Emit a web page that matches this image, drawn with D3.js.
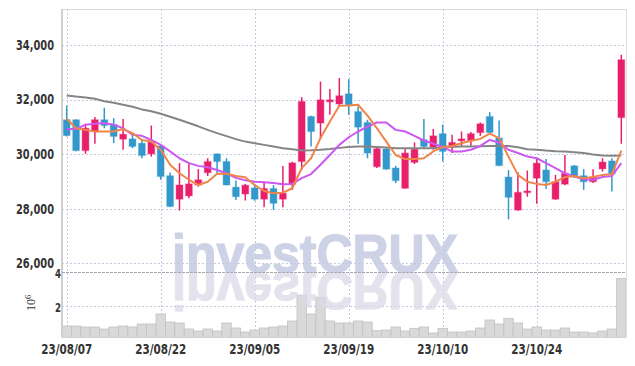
<!DOCTYPE html>
<html>
<head>
<meta charset="utf-8">
<script src="https://cdn.jsdelivr.net/npm/d3@7"></script>
<style>
  body { margin: 0; background: #fff; }
  svg { display: block; }
  .lbl { font-family: "Liberation Sans Narrow", "DejaVu Sans Condensed", sans-serif; font-weight: bold; fill: #333; }
</style>
</head>
<body>
<div id="chart"></div>
<script>
// trading days shown (yy/mm/dd)
const dates = [
  "23/08/07","23/08/08","23/08/09","23/08/10","23/08/11","23/08/14","23/08/16","23/08/17","23/08/18","23/08/21",
  "23/08/22","23/08/23","23/08/24","23/08/25","23/08/28","23/08/29","23/08/30","23/08/31","23/09/01","23/09/04",
  "23/09/05","23/09/06","23/09/07","23/09/08","23/09/11","23/09/12","23/09/13","23/09/14","23/09/15","23/09/18",
  "23/09/19","23/09/20","23/09/21","23/09/22","23/09/25","23/09/26","23/09/27","23/10/04","23/10/05","23/10/06",
  "23/10/10","23/10/11","23/10/12","23/10/13","23/10/16","23/10/17","23/10/18","23/10/19","23/10/20","23/10/23",
  "23/10/24","23/10/25","23/10/26","23/10/27","23/10/30","23/10/31","23/11/01","23/11/02","23/11/03","23/11/06"
];
const openP = [31260,31260,30130,30830,31260,31080,30550,30560,30400,30010,
  30300,29210,28350,28470,28870,29320,30010,29730,28790,28540,
  28760,28350,28740,28350,28900,29730,31380,31140,31920,31840,
  32210,31560,31160,29540,30190,29490,28750,29700,30530,30260,
  30750,30260,30490,30500,30790,31380,30590,29160,27950,28590,
  29120,29420,28350,28900,29570,29210,28990,29460,29750,31340];
const highP = [31780,31280,31110,31360,31700,31320,31290,30750,30540,31050,
  30340,29330,29670,29690,29450,29850,30020,29850,29030,28910,
  28910,28990,28870,29570,29720,32090,31410,32660,32390,32790,
  32750,31750,31260,30260,30210,29570,30220,30430,31290,30920,
  31080,30710,30830,30810,31160,31540,31230,29420,29340,29400,
  29850,29820,29240,29970,29600,29450,29450,29850,29850,33640];
const lowP = [30650,30110,30010,30380,30950,30400,30160,30220,29850,29910,
  29060,28060,27930,28380,28810,29200,29300,28860,28320,28300,
  28290,28050,27960,28050,28690,29420,30280,30550,31440,31750,
  31440,30380,29850,29490,29430,28940,28730,29640,30220,30160,
  29730,30040,30300,30280,30670,30780,29570,27610,27930,28440,
  28180,28720,28330,28860,29150,28690,28940,29360,28630,30380];
const closeP = [30680,30130,30950,31260,31050,30650,30730,30280,29950,30440,
  29180,28080,28870,28910,29060,29730,29730,28870,28440,28860,
  28350,28740,28200,28570,29680,31930,30830,31990,31990,32140,
  31810,30990,30040,30200,29450,29030,30040,30180,30280,30670,
  30100,30430,30560,30750,31110,30790,29580,28420,28600,28650,
  29670,28990,28990,29300,29160,28990,29160,29710,29280,33460];
const volume = [780000,780000,720000,720000,600000,720000,780000,720000,900000,900000,
  1500000,1020000,960000,600000,480000,600000,480000,960000,660000,420000,
  540000,660000,720000,780000,1080000,2630000,1500000,2510000,1080000,960000,
  960000,1080000,1020000,500000,540000,720000,480000,640000,720000,360000,
  640000,420000,420000,480000,660000,1140000,900000,1240000,960000,600000,
  720000,540000,540000,660000,420000,420000,360000,480000,600000,3630000];
// moving average lines
const ma5 = [31300,30950,30890,30830,30830,30830,30920,30770,30520,30460,
  30160,29610,29300,29060,28870,28990,29280,29280,29200,29150,
  28870,28650,28570,28590,28750,29490,29850,30590,31200,31770,
  31780,31810,31410,30950,30460,29970,29820,29820,29850,30100,
  30260,30300,30400,30490,30560,30750,30590,29910,29240,28990,
  28910,28870,28990,29160,29200,29120,29160,29240,29270,30130];
const ma20 = [30920,30920,31080,31110,31140,31080,30950,30710,30670,30520,
  30340,30100,29850,29670,29570,29520,29420,29300,29130,29040,
  28990,28970,28940,28900,28910,29120,29270,29610,29970,30340,
  30620,30830,31010,31160,31160,30890,30830,30670,30500,30380,
  30260,30100,30100,30160,30300,30520,30430,30160,30040,29910,
  29850,29670,29490,29300,29180,29080,29060,29160,29200,29670];
const ma60 = [32150,32110,32080,32030,31940,31880,31810,31740,31640,31570,
  31480,31370,31260,31140,31020,30890,30770,30660,30550,30460,
  30400,30340,30280,30220,30180,30130,30140,30160,30190,30230,
  30260,30280,30280,30260,30240,30220,30220,30220,30220,30220,
  30260,30270,30280,30280,30290,30300,30300,30300,30250,30180,
  30160,30130,30110,30100,30070,30040,29990,29950,29940,29950];
const priceTicks = [26000, 28000, 30000, 32000, 34000];
const volTicks = [2, 4];
const dateTicks = ["23/08/07","23/08/22","23/09/05","23/09/19","23/10/10","23/10/24"];

const width = 635, height = 366;
const plotL = 62, plotR = 626, plotT = 9, split = 272, plotB = 337.5;
const upColor = "#e8206c", downColor = "#3398cb";

const svg = d3.select("#chart").append("svg")
  .attr("width", width).attr("height", height);

const x = d3.scaleBand().domain(dates).range([plotL, plotR]).padding(0);
const y = d3.scaleLinear().domain([26000, 34000]).range([263.3, 45]);
const yv = d3.scaleLinear().domain([0, 4]).range([339, 272.3]);
const cx = d => x(d) + x.bandwidth() / 2;

const defs = svg.append("defs");
defs.append("clipPath").attr("id", "clipP").append("rect")
  .attr("x", plotL).attr("y", plotT).attr("width", plotR - plotL).attr("height", split - plotT);
defs.append("clipPath").attr("id", "clipV").append("rect")
  .attr("x", plotL).attr("y", split).attr("width", plotR - plotL).attr("height", plotB - split);

// grid
const grid = svg.append("g").attr("stroke", "#c6cadf").attr("stroke-dasharray", "2,2").attr("stroke-width", 1);
grid.selectAll("line.h").data(priceTicks).enter().append("line")
  .attr("x1", plotL).attr("x2", plotR)
  .attr("y1", d => Math.round(y(d)) + 0.5).attr("y2", d => Math.round(y(d)) + 0.5);
grid.selectAll("line.v").data(dateTicks).enter().append("line")
  .attr("y1", plotT).attr("y2", plotB)
  .attr("x1", d => Math.round(cx(d)) + 0.5).attr("x2", d => Math.round(cx(d)) + 0.5);
grid.append("line").attr("x1", plotL).attr("x2", plotR)
  .attr("y1", Math.round(yv(2)) + 0.5).attr("y2", Math.round(yv(2)) + 0.5);

// volume bars
svg.append("g").attr("clip-path", "url(#clipV)")
  .selectAll("rect").data(dates).enter().append("rect")
  .attr("x", d => x(d))
  .attr("width", x.bandwidth())
  .attr("y", (d, i) => yv(volume[i] / 1e6))
  .attr("height", (d, i) => yv(0) - yv(volume[i] / 1e6))
  .attr("fill", "#d9d9d9")
  .attr("stroke", "#c2c2c2")
  .attr("stroke-width", 0.8);

// watermark, the reflection reuses the same text node
defs.append("text").attr("id", "wmText")
  .attr("x", 172).attr("y", split)
  .attr("textLength", 286).attr("lengthAdjust", "spacingAndGlyphs")
  .style("font-family", "Liberation Sans, Arial, sans-serif")
  .style("font-weight", "bold").style("font-size", "54px")
  .attr("stroke-width", 1.2)
  .text("investCRUX");
svg.append("use").attr("href", "#wmText")
  .attr("fill", "#c6cbe2").attr("stroke", "#c6cbe2").attr("opacity", 0.85);
svg.append("g").attr("clip-path", "url(#clipV)")
  .append("use").attr("href", "#wmText")
  .attr("transform", `translate(0,${2 * split}) scale(1,-1)`)
  .attr("fill", "#dcd9e8").attr("stroke", "#dcd9e8").attr("opacity", 0.75);

// candles
const candles = svg.append("g").attr("clip-path", "url(#clipP)");
const col = i => closeP[i] >= openP[i] ? upColor : downColor;
candles.selectAll("line").data(dates).enter().append("line")
  .attr("x1", d => cx(d)).attr("x2", d => cx(d))
  .attr("y1", (d, i) => y(highP[i])).attr("y2", (d, i) => y(lowP[i]))
  .attr("stroke", (d, i) => col(i)).attr("stroke-width", 1.5);
candles.selectAll("rect").data(dates).enter().append("rect")
  .attr("x", d => cx(d) - 3.4)
  .attr("width", 6.8)
  .attr("y", (d, i) => y(Math.max(openP[i], closeP[i])))
  .attr("height", (d, i) => Math.max(1.5, Math.abs(y(openP[i]) - y(closeP[i]))))
  .attr("fill", (d, i) => col(i))
  .attr("stroke", (d, i) => col(i)).attr("stroke-opacity", 0.25).attr("stroke-width", 1.5);

// moving averages
const lineOf = arr => d3.line().x((d, i) => cx(dates[i])).y(d => y(d))(arr);
[[ma60, "#858585"], [ma20, "#cc58ef"], [ma5, "#f0854a"]].forEach(([arr, c]) => {
  candles.append("path").attr("d", lineOf(arr))
    .attr("fill", "none").attr("stroke", c).attr("stroke-width", 2)
    .attr("stroke-linejoin", "round");
});

// frame
svg.append("line").attr("x1", plotL).attr("x2", plotR).attr("y1", plotT + 0.5).attr("y2", plotT + 0.5)
  .attr("stroke", "#d8d8d8");
svg.append("line").attr("x1", plotR + 0.5).attr("x2", plotR + 0.5).attr("y1", plotT).attr("y2", plotB)
  .attr("stroke", "#e0e0e0");
svg.append("line").attr("x1", plotL).attr("x2", plotL).attr("y1", plotT).attr("y2", plotB)
  .attr("stroke", "#cfcfcf").attr("stroke-width", 2);
svg.append("line").attr("x1", plotL).attr("x2", plotR).attr("y1", split + 0.5).attr("y2", split + 0.5)
  .attr("stroke", "#a8a8b4").attr("stroke-dasharray", "3,1");
svg.append("line").attr("x1", plotL).attr("x2", plotR).attr("y1", plotB).attr("y2", plotB)
  .attr("stroke", "#d0d0d0");

// axis labels (condensed to the width of the original lettering)
const fmt = d3.format(",");
svg.selectAll("text.py").data(priceTicks).enter().append("text")
  .attr("class", "lbl py")
  .attr("x", 54).attr("y", d => y(d)).attr("dy", "0.35em")
  .attr("text-anchor", "end").style("font-size", "14px")
  .attr("textLength", 38).attr("lengthAdjust", "spacingAndGlyphs")
  .text(d => fmt(d));
svg.selectAll("text.vy").data(volTicks).enter().append("text")
  .attr("class", "lbl vy")
  .attr("x", 55).attr("y", d => yv(d) + 1.5).attr("dy", "0.35em")
  .style("font-size", "13px")
  .attr("textLength", 6).attr("lengthAdjust", "spacingAndGlyphs")
  .text(d => d);
svg.selectAll("text.dx").data(dateTicks).enter().append("text")
  .attr("class", "lbl dx")
  .attr("x", d => cx(d) - 25.5).attr("y", 354)
  .style("font-size", "14.5px")
  .attr("textLength", 51).attr("lengthAdjust", "spacingAndGlyphs")
  .text(d => d);

const unit = svg.append("text")
  .attr("transform", "translate(34.5,311) rotate(-90)")
  .style("font-family", "Liberation Serif, serif").style("font-size", "12px")
  .attr("fill", "#333");
unit.append("tspan").text("10");
unit.append("tspan").attr("dy", "-0.45em").style("font-size", "8.5px").text("6");
</script>
</body>
</html>
